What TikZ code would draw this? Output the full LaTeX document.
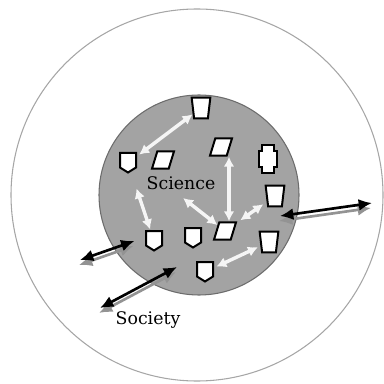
\documentclass[tikz,border=0pt]{standalone}
\usepackage{fontspec}
\setmainfont{DejaVu Serif}
\usetikzlibrary{shapes.geometric,arrows.meta}

\tikzset{
  item/.style={draw=black, fill=white, line width=1.5pt, inner sep=1pt},
  cup/.style={item, trapezium, trapezium angle=80, shape border rotate=180,
    trapezium stretches=true, minimum width=14pt, minimum height=15.5pt},
  tile/.style={item, trapezium, trapezium left angle=65, trapezium right angle=115,
    trapezium stretches=true, minimum width=16.5pt, minimum height=13pt},
  spot/.style={rectangle, minimum width=13pt, minimum height=15pt, inner sep=0pt},
  plug/.style={rectangle, minimum width=13pt, minimum height=21pt, inner sep=0pt},
  link/.style={draw=gray!8, line width=2.6pt,
    {Latex[length=7.5pt,width=8pt]}-{Latex[length=7.5pt,width=8pt]}},
  tie/.style={draw=black, line width=2pt,
    {Latex[length=10pt,width=9pt]}-{Latex[length=10pt,width=9pt]}},
  tieshade/.style={tie, draw=gray!85, fill=gray!85,
    transform canvas={shift={(-1,5)}}},
  title/.style={font=\fontsize{13}{15}\selectfont, inner sep=0pt}
}
% shield: square with a short point below
\newcommand{\shieldat}[2]{%
  \node [spot] (#1) at (#2) {};
  \draw [item] ([shift={(-8,-10)}]#1.center) -- ++(16,0) -- ++(0,14.5)
    -- ++(-8,5) -- ++(-8,-5) -- cycle;}

\begin{document}
\begin{tikzpicture}[x=0.75pt, y=-0.75pt]
\useasboundingbox (0,0) rectangle (384,384);
% society and science
\draw [gray!70, line width=0.8pt] (197,195) circle (186);
\draw [gray!85!black, fill=gray!72, line width=0.8pt] (199,195) circle (100);
\node [title] (science) at (181,183) {Science};
\node [title] (society) at (148,320) {Society};
% items
\node [cup] (t1) at (201,108) {};
\shieldat{s1}{128,163}
\node [tile] (p1) at (163,160) {};
\node [tile] (p2) at (221,147) {};
\node [plug] (c1) at (268,159) {};
\draw [item] ([shift={(-6,-14)}]c1.center) -- ++(12,0) -- ++(0,6) -- ++(3,0)
  -- ++(0,16) -- ++(-3,0) -- ++(0,6) -- ++(-12,0) -- ++(0,-6) -- ++(-3,0)
  -- ++(0,-16) -- ++(3,0) -- cycle;
\node [cup] (t2) at (275,196) {};
\node [tile] (p3) at (225,231) {};
\shieldat{s2}{154,241}
\shieldat{s3}{193,238}
\node [cup] (t3) at (269,242) {};
\shieldat{s4}{205,272}
% free ends
\coordinate (mid) at (183,198);
\coordinate (west) at (80,260);
\coordinate (sw1) at (100,308);
\coordinate (sw2) at (177,267);
\coordinate (east1) at (280,216);
\coordinate (east2) at (372,203);
% exchanges inside science
\draw [link, shorten <=2pt] (s1) -- (t1);
\draw [link] ([xshift=6]p2.south) -- ([xshift=3]p3.north);
\draw [link, shorten <=12pt, shorten >=1pt] (s1) -- (s2);
\draw [link] (mid) -- (p3);
\draw [link, shorten <=3pt, shorten >=3pt] (p3) -- (t2);
\draw [link, shorten <=2pt, shorten >=2pt] (s4) -- (t3);
% exchanges with society
\draw [tieshade] (west) -- ([xshift=-8]s2.west);
\draw [tie] (west) -- ([xshift=-8]s2.west);
\draw [tieshade] (sw1) -- (sw2);
\draw [tie] (sw1) -- (sw2);
\draw [tieshade] (east1) -- (east2);
\draw [tie] (east1) -- (east2);
\end{tikzpicture}
\end{document}
